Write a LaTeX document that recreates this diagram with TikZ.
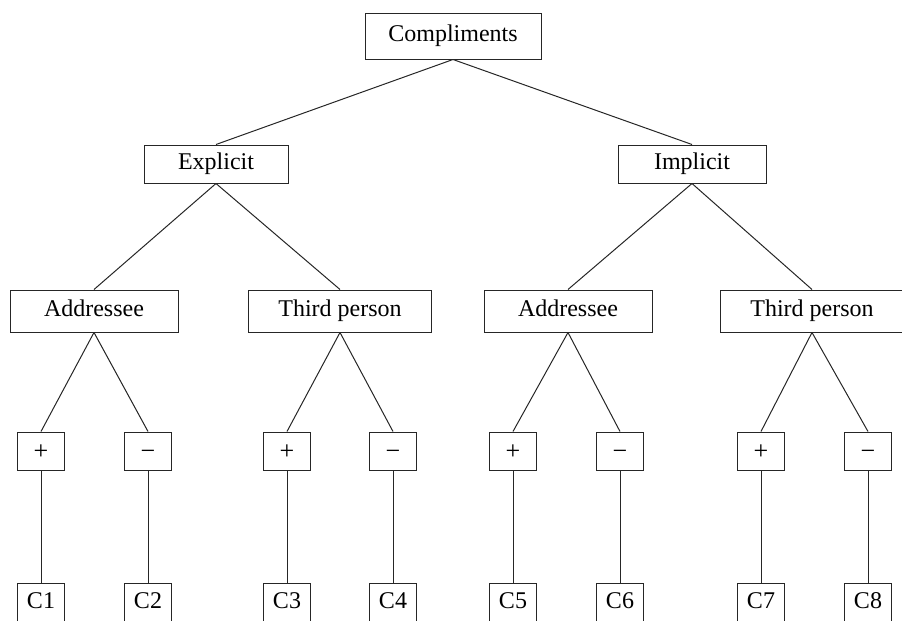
\documentclass[tikz,border=0pt]{standalone}
\usepackage{fontspec}
\setmainfont{Liberation Serif}
\usepackage{tikz}
\usetikzlibrary{positioning}

\begin{document}
\begin{tikzpicture}[x=0.5pt, y=-0.5pt]

\tikzstyle{box} = [rectangle, draw=black!85, line width=0.5pt, inner sep=0pt, text centered, text height=8.2pt, text depth=2.6pt, font=\fontsize{12}{14}\selectfont]
\tikzstyle{root} = [box, minimum width=88pt, minimum height=23pt]
\tikzstyle{kind} = [box, minimum width=72pt, minimum height=19pt]
\tikzstyle{person} = [box, minimum width=84pt, minimum height=21pt]
\tikzstyle{sign} = [box, minimum width=23.5pt, minimum height=19pt, text height=8.5pt, text depth=0pt, font=\fontsize{13}{14}\selectfont]
\tikzstyle{leaf} = [box, minimum width=23.5pt, minimum height=20pt]
\tikzstyle{link} = [draw=black!85, line width=0.5pt]

\useasboundingbox (0,0) rectangle (902,621);
\clip (0,0) rectangle (902,621);

\node (comp) [root] at (453,36) {Compliments};

\node (expl) [kind] at (216,164) {Explicit};
\node (impl) [kind, minimum width=74pt] at (692,164) {Implicit};

\node (addrL) [person] at (94,311) {Addressee};
\node (thirdL) [person, minimum width=91.5pt] at (340,311) {Third person};
\node (addrR) [person] at (568,311) {Addressee};
\node (thirdR) [person, minimum width=91.5pt] at (812,311) {Third person};

\node (p1) [sign] at (41,451) {+};
\node (m1) [sign] at (148,451) {−};
\node (p2) [sign] at (287,451) {+};
\node (m2) [sign] at (393,451) {−};
\node (p3) [sign] at (513,451) {+};
\node (m3) [sign] at (620,451) {−};
\node (p4) [sign] at (761,451) {+};
\node (m4) [sign] at (868,451) {−};

% bottom row runs off the page
\node (c1) [leaf] at (41,603) {C1};
\node (c2) [leaf] at (148,603) {C2};
\node (c3) [leaf] at (287,603) {C3};
\node (c4) [leaf] at (393,603) {C4};
\node (c5) [leaf] at (513,603) {C5};
\node (c6) [leaf] at (620,603) {C6};
\node (c7) [leaf] at (761,603) {C7};
\node (c8) [leaf] at (868,603) {C8};

\draw [link] (comp.south) -- (expl.north);
\draw [link] (comp.south) -- (impl.north);
\draw [link] (expl.south) -- (addrL.north);
\draw [link] (expl.south) -- (thirdL.north);
\draw [link] (impl.south) -- (addrR.north);
\draw [link] (impl.south) -- (thirdR.north);
\draw [link] (addrL.south) -- (p1.north);
\draw [link] (addrL.south) -- (m1.north);
\draw [link] (thirdL.south) -- (p2.north);
\draw [link] (thirdL.south) -- (m2.north);
\draw [link] (addrR.south) -- (p3.north);
\draw [link] (addrR.south) -- (m3.north);
\draw [link] (thirdR.south) -- (p4.north);
\draw [link] (thirdR.south) -- (m4.north);
\draw [link] (p1) -- (c1);
\draw [link] (m1) -- (c2);
\draw [link] (p2) -- (c3);
\draw [link] (m2) -- (c4);
\draw [link] (p3) -- (c5);
\draw [link] (m3) -- (c6);
\draw [link] (p4) -- (c7);
\draw [link] (m4) -- (c8);
\end{tikzpicture}
\end{document}
